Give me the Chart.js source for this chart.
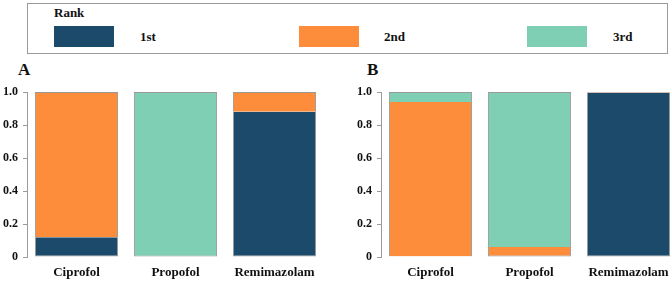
<!DOCTYPE html>
<html>
<head>
<meta charset="utf-8">
<script src="https://cdn.jsdelivr.net/npm/chart.js@4"></script>
<style>
  html, body { margin: 0; padding: 0; background: #fff; overflow: hidden; width: 672px; height: 283px; }
  body { position: relative; font-family: "Liberation Serif", "Times New Roman", serif; font-weight: bold; color: #111; }
  .legend { position: absolute; left: 27px; top: 3px; width: 641px; height: 51px; border: 1px solid #9a9a9a; box-sizing: border-box; }
  .legend .title { position: absolute; left: 26px; top: 1px; font-size: 13px; }
  .legend .sw { position: absolute; top: 22px; width: 60px; height: 21px; }
  .legend .lab { position: absolute; top: 25px; font-size: 13px; }
  .letter { position: absolute; top: 60px; font-size: 17px; }
  .panel { position: absolute; top: 60px; height: 223px; }
</style>
</head>
<body>
<div class="legend" id="legend"><div class="title">Rank</div></div>
<div class="letter" style="left:18px">A</div>
<div class="letter" style="left:367px">B</div>
<div class="panel" style="left:0;width:336px"><canvas id="chartA"></canvas></div>
<div class="panel" style="left:336px;width:345px"><canvas id="chartB"></canvas></div>
<script>
// categories and ranks
const drugs = ["Ciprofol", "Propofol", "Remimazolam"];
const ranks = ["1st", "2nd", "3rd"];
const rankColors = ["#1b4a6b", "#fd8d3a", "#7ecfb4"];

// panel A proportions
const firstA = [0.12, 0, 0.88];
const secondA = [0.88, 0, 0.12];
const thirdA = [0, 1, 0];

// panel B proportions
const firstB = [0.005, 0, 0.995];
const secondB = [0.935, 0.06, 0.005];
const thirdB = [0.06, 0.94, 0];

const yTickLabels = ["0", "0.2", "0.4", "0.6", "0.8", "1.0"];

// legend (html)
const legendBox = document.getElementById("legend");
const swLeft = [26, 271, 499];
const labLeft = [112, 356, 585];
ranks.forEach(function (r, i) {
    const sw = document.createElement("div");
    sw.className = "sw";
    sw.style.left = swLeft[i] + "px";
    sw.style.background = rankColors[i];
    legendBox.appendChild(sw);
    const lab = document.createElement("div");
    lab.className = "lab";
    lab.style.left = labLeft[i] + "px";
    lab.textContent = r;
    legendBox.appendChild(lab);
});

const font = { family: "'Liberation Serif', 'Times New Roman', serif", weight: "bold", size: 12 };

function makeChart(id, series, axisWidth, padRight) {
    const ctx = document.getElementById(id).getContext("2d");
    // outline the whole stack only, not the joins inside it
    function edges(c) {
        const i = c.dataIndex, d = c.datasetIndex;
        let top = -1, bottom = -1;
        series.forEach(function (s, k) {
            if (s[i] > 0) { if (bottom < 0) bottom = k; top = k; }
        });
        if (series[d][i] <= 0) return 0;
        return { left: 1, right: 1, top: d === top ? 1 : 0, bottom: d === bottom ? 1 : 0 };
    }
    return new Chart(ctx, {
        type: "bar",
        data: {
            labels: drugs,
            datasets: series.map(function (s, i) {
                return {
                    label: ranks[i],
                    data: s,
                    backgroundColor: rankColors[i],
                    borderColor: "rgba(110,110,110,0.7)",
                    borderWidth: edges,
                    borderSkipped: false,
                    barPercentage: 0.84,
                    categoryPercentage: 1,
                };
            }),
        },
        options: {
            responsive: true,
            maintainAspectRatio: false,
            animation: false,
            layout: { padding: { top: 32, right: padRight, left: 0, bottom: 0 } },
            plugins: { legend: { display: false }, tooltip: { enabled: false } },
            scales: {
                x: {
                    stacked: true,
                    grid: { display: false, drawTicks: false },
                    border: { display: false },
                    ticks: { font: { ...font, size: 13 }, color: "#111", padding: 8, maxRotation: 0, autoSkip: false },
                    afterFit: function (scale) { scale.height = 26; },
                },
                y: {
                    stacked: true,
                    min: 0,
                    max: 1,
                    ticks: {
                        stepSize: 0.2,
                        font: font,
                        color: "#111",
                        padding: 5,
                        callback: function (v, i) { return yTickLabels[i]; },
                    },
                    grid: { drawOnChartArea: false, tickLength: 4, color: "#9a9a9a" },
                    border: { display: true, color: "#9a9a9a" },
                    afterFit: function (scale) { scale.width = axisWidth; },
                },
            },
        },
    });
}

makeChart("chartA", [firstA, secondA, thirdA], 27, 12);
makeChart("chartB", [firstB, secondB, thirdB], 45, 3);
</script>
</body>
</html>
